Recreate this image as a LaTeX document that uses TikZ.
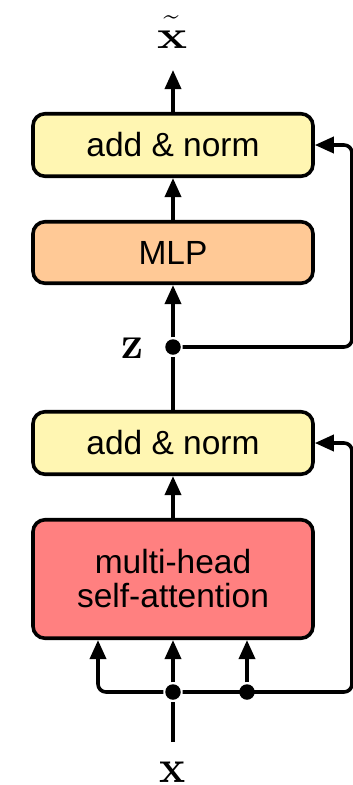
\documentclass[tikz,border=0pt]{standalone}
\usepackage{fontspec}
\usepackage{graphicx}
\newfontfamily\boxfont{Liberation Sans}
\usetikzlibrary{arrows.meta}
\definecolor{yellowc}{RGB}{255,246,178}
\definecolor{orangec}{RGB}{255,201,150}
\definecolor{redc}{RGB}{255,128,128}
\begin{document}
\begin{tikzpicture}[x=1pt,y=-1pt, line width=3.6pt,
  box/.style={draw, rounded corners=12pt, minimum width=280pt, inner sep=0pt,
    font=\boxfont\fontsize{33.5}{34}\selectfont, align=center},
  arr/.style={-{Triangle[length=19pt,width=16pt]}},
  dot/.style={circle, fill, inner sep=0pt, minimum size=15.5pt},
  lbl/.style={anchor=base, inner sep=0pt, font=\bfseries\fontsize{44}{44}\selectfont}]
\useasboundingbox (0,0) rectangle (353,785);
% boxes
\node[box, fill=yellowc, minimum height=62.5pt] (an2) at (173,145) {add \& norm};
\node[box, fill=orangec, minimum height=61.5pt] (mlp) at (173,252.5) {MLP};
\node[box, fill=yellowc, minimum height=62.5pt] (an1) at (173,443) {add \& norm};
\node[box, fill=redc, minimum height=118.5pt] (mhsa) at (173,579) {multi-head\\self-attention};
% dots
\node[dot] (z) at (173,347) {};
\node[dot] (d1) at (173,692) {};
\node[dot] (d2) at (247,692) {};
% labels
\node[lbl] (xt) at (172.5,48.5) {\scalebox{1.15}[0.9]{x}};
\node[anchor=base, inner sep=0pt, font=\fontsize{40}{40}\selectfont] (tl) at (172,41) {\scalebox{1.2}[1]{\symbol{"02DC}}};
\node[lbl] (zl) at (132,358.5) {\scalebox{1}[1.05]{z}};
\node[lbl] (xl) at (173,782) {\scalebox{1}[1.05]{x}};
% helper coordinates
\coordinate (top) at (173,70);
\coordinate (xin) at (173,742);
\coordinate (c1) at (98,692);
\coordinate (r1) at (352,692);
\coordinate (r2) at (352,347);
% connectors
\draw[arr] (an2) -- (top);
\draw[arr] (mlp) -- (an2);
\draw[arr] (z) -- (mlp);
\draw (an1) -- (z);
\draw[arr] (mhsa) -- (an1);
\draw (xin) -- (d1);
\draw[arr] (d1) -- (mhsa);
\draw[arr] (d2) -- (d2 |- mhsa.south);
\draw[arr, rounded corners=8pt] (d1) -- (c1) -- (c1 |- mhsa.south);
\draw[arr, rounded corners=8pt] (d1) -- (r1) -- (r1 |- an1.east) -- (an1.east);
\draw[arr, rounded corners=8pt] (z) -- (r2) -- (r2 |- an2.east) -- (an2.east);
\end{tikzpicture}
\end{document}
